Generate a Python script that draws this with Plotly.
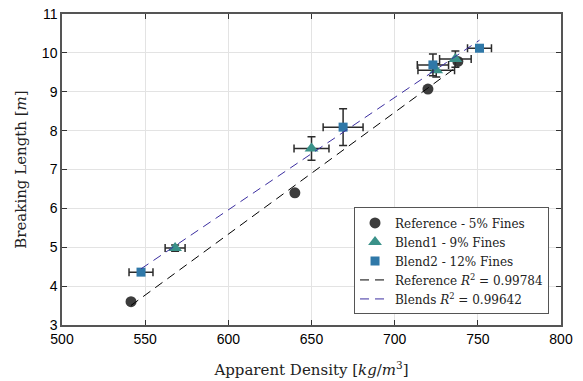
import numpy as np
import plotly.graph_objects as go

# Data
ref_x = [541.5, 640, 720, 738]
ref_y = [3.6, 6.4, 9.07, 9.78]

b1_x = [568, 650, 725, 736.5]
b1_y = [4.98, 7.54, 9.55, 9.84]
b1_ex = [6, 10.5, 11, 9.5]
b1_ey = [0.08, 0.3, 0.17, 0.21]

b2_x = [547.5, 669, 723, 751]
b2_y = [4.36, 8.09, 9.69, 10.12]
b2_ex = [7.2, 12, 9.4, 7.2]
b2_ey = [0.05, 0.47, 0.28, 0.06]

ref_label = "Reference <i>R</i><sup>2</sup> = 0.99784"
blend_label = "Blends <i>R</i><sup>2</sup> = 0.99642"

# Fits
rp = np.polyfit(ref_x, ref_y, 1)
bx_all = b1_x + b2_x
by_all = b1_y + b2_y
bp = np.polyfit(bx_all, by_all, 1)
rfx = np.array([min(ref_x), max(ref_x)])
bfx = np.array([min(bx_all), max(bx_all)])

serif = "DejaVu Serif"
err_color = "#2b2b2b"

fig = go.Figure()
fig.add_trace(go.Scatter(x=ref_x, y=ref_y, mode="markers", name="Reference - 5% Fines",
                         marker=dict(symbol="circle", size=11, color="#3c3c3c")))
fig.add_trace(go.Scatter(x=b1_x, y=b1_y, mode="markers", name="Blend1 - 9% Fines",
                         marker=dict(symbol="triangle-up", size=12, color="#3a9189"),
                         error_x=dict(type="data", array=b1_ex, color=err_color, thickness=1.5, width=4),
                         error_y=dict(type="data", array=b1_ey, color=err_color, thickness=1.5, width=4)))
fig.add_trace(go.Scatter(x=b2_x, y=b2_y, mode="markers", name="Blend2 - 12% Fines",
                         marker=dict(symbol="square", size=9, color="#2f78a8"),
                         error_x=dict(type="data", array=b2_ex, color=err_color, thickness=1.5, width=4),
                         error_y=dict(type="data", array=b2_ey, color=err_color, thickness=1.5, width=4)))
fig.add_trace(go.Scatter(x=rfx, y=np.polyval(rp, rfx), mode="lines", name=ref_label,
                         line=dict(color="black", width=1, dash="9px,6px")))
fig.add_trace(go.Scatter(x=bfx, y=np.polyval(bp, bfx), mode="lines", name=blend_label,
                         line=dict(color="#3b2ea0", width=1, dash="9px,6px")))

axis_common = dict(showgrid=True, gridcolor="#e3e3e3", gridwidth=1, automargin=False,
                   showline=True, linecolor="#555555", linewidth=1.5, mirror="allticks",
                   ticks="inside", ticklen=5, tickcolor="#333333", zeroline=False,
                   ticklabeloverflow="allow",
                   tickfont=dict(family="Liberation Sans", size=14, color="black"))

fig.update_xaxes(range=[500, 800], dtick=50, **axis_common,
                 title=dict(text="Apparent Density [<i>kg</i>/<i>m</i><sup>3</sup>]",
                            font=dict(family=serif, size=15, color="#222"), standoff=19))
fig.update_yaxes(range=[3, 11], dtick=1, **axis_common,
                 title=dict(text="Breaking Length [<i>m</i>]",
                            font=dict(family=serif, size=15, color="#222"), standoff=12))

fig.update_layout(
    width=583, height=381,
    margin=dict(l=54, r=30, t=5.5, b=63.5),
    plot_bgcolor="white", paper_bgcolor="white",
    showlegend=True,
    legend=dict(x=0.976, y=0.034, xanchor="right", yanchor="bottom",
                bgcolor="white", bordercolor="#555", borderwidth=1,
                font=dict(family=serif, size=12, color="#222"),
                tracegroupgap=0, itemwidth=30),
)

fig.write_html("out.html")
